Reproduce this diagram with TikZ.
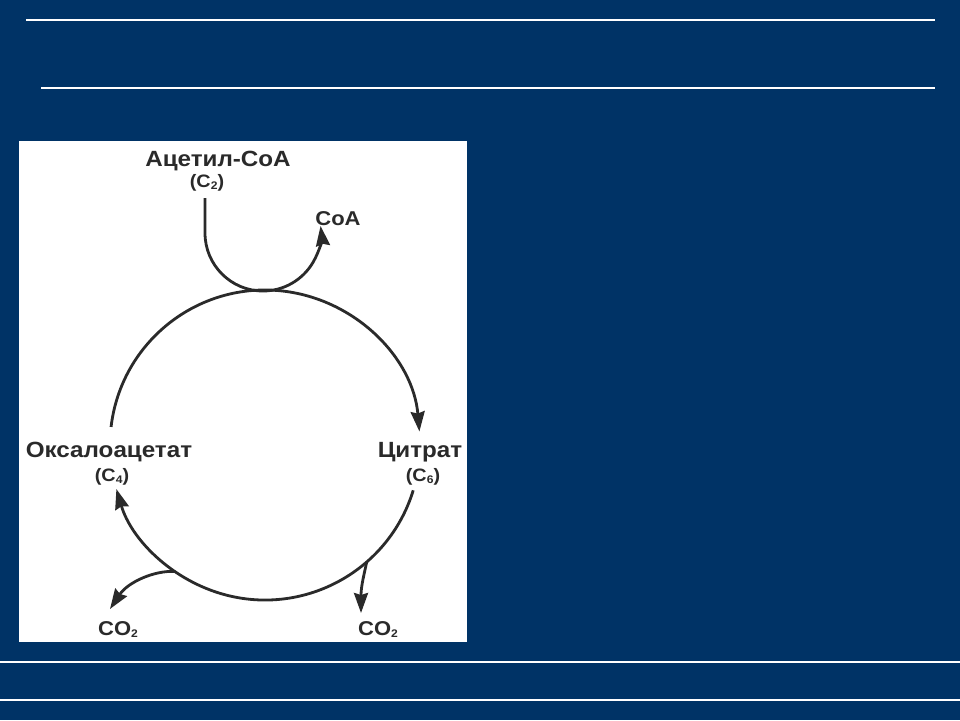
\documentclass[tikz,border=0pt]{standalone}
\usepackage{fontspec}
\setmainfont{Liberation Sans}[FakeStretch=1.1]
\usetikzlibrary{arrows.meta}
\definecolor{bg}{RGB}{0,51,102}
\definecolor{ink}{RGB}{42,42,42}
\newcommand{\lowsub}[1]{\raisebox{-2.5pt}{\fontsize{11}{12}\selectfont #1}}
\begin{document}
\begin{tikzpicture}[x=1pt,y=-1pt,
  conn/.style={draw=ink, line width=2.8pt},
  tip/.style={-{Stealth[length=20pt,width=14pt,inset=2pt]}},
  big/.style={text=ink, font=\bfseries\fontsize{22}{24}\selectfont, inner sep=0pt, anchor=base},
  small/.style={text=ink, font=\bfseries\fontsize{18}{20}\selectfont, inner sep=0pt, anchor=base},
  mid/.style={text=ink, font=\bfseries\fontsize{20}{22}\selectfont, inner sep=0pt, anchor=base},
  rule/.style={draw=white, line width=1.5pt}]
\fill[bg] (0,0) rectangle (960,720);
\useasboundingbox (0,0) rectangle (960,720);
% rules
\draw[rule] (26,20) -- (935,20);
\draw[rule] (41,88) -- (935,88);
\draw[rule] (0,662) -- (960,662);
\draw[rule] (0,700) -- (960,700);
% picture panel
\fill[white] (19,141) rectangle (467,642);
% labels
\node[big] (acetyl) at (218,166) {Ацетил-СоА};
\node[small] (c2) at (207,187) {(C\lowsub{2})};
\node[mid] (coa) at (338,225) {CoA};
\node[big] (oxalo) at (109,457) {Оксалоацетат};
\node[small] (c4) at (112,481) {(C\lowsub{4})};
\node[big] (citrat) at (420,457) {Цитрат};
\node[small] (c6) at (423,481) {(C\lowsub{6})};
\node[mid] (co2l) at (118,635) {CO\lowsub{2}};
\node[mid] (co2r) at (378,635) {CO\lowsub{2}};
% cycle
\coordinate (cc) at (265,445);
\coordinate (utop) at (205,198);
\coordinate (ubend) at (205,233);
\coordinate (b1) at ([shift={(125.3:155)}]cc);
\coordinate (b2) at ([shift={(49:155)}]cc);
\coordinate (tipl) at (110,609);
\coordinate (tipr) at (361,613);
\draw[conn,tip] ([shift={(186.7:155)}]cc) arc[start angle=186.7, end angle=355, radius=155];
\draw[conn,tip] ([shift={(17:155)}]cc) arc[start angle=17, end angle=163.5, radius=155];
\draw[conn,tip] (utop) -- (ubend) arc[start angle=180, end angle=-7, radius=58];
\draw[conn,tip] (b1) .. controls (155,570) and (128,582) .. (tipl);
\draw[conn,tip] (b2) .. controls (364,575) and (361,586) .. (tipr);
\end{tikzpicture}
\end{document}
